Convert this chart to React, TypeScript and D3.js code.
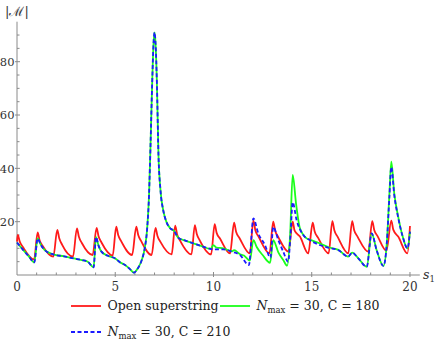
import React, { useEffect, useRef } from 'react';
import * as d3 from 'd3';

// [s1, |M|] points
const openSuperstring: [number, number][] = [
  [0, 12.5], [0.04, 15], [0.14, 12.5], [0.3, 10.5], [0.87, 5.8],
  [1.05, 16], [1.15, 13], [1.3, 11], [1.85, 6.9],
  [2.05, 16.9], [2.15, 13.8], [2.3, 11.3], [2.85, 6.9],
  [3.05, 17.5], [3.15, 14.3], [3.3, 12], [3.85, 7.5],
  [4.05, 17.7], [4.15, 14.5], [4.3, 12.2], [4.87, 7.3],
  [5.05, 18.1], [5.15, 15], [5.3, 12.7], [5.86, 7.5],
  [6.07, 18.1], [6.17, 15], [6.32, 12.7], [6.85, 7.5],
  [7.05, 17.7], [7.15, 14.6], [7.3, 12.4], [7.87, 7.7],
  [8.05, 18.5], [8.15, 15.2], [8.3, 12.9], [8.88, 7.7],
  [9.05, 18.7], [9.15, 15.4], [9.3, 13], [9.88, 7.7],
  [10.06, 19.1], [10.16, 15.8], [10.33, 13.7], [10.84, 8.1],
  [11.05, 19.6], [11.15, 16.2], [11.32, 13.9], [11.85, 8.1],
  [12.03, 20.4], [12.13, 16.8], [12.3, 14.3], [12.85, 8.1],
  [13.04, 20], [13.14, 16.6], [13.3, 14.2], [13.82, 8.75],
  [14.03, 20], [14.13, 16.6], [14.4, 14.4], [14.82, 8.1],
  [15.05, 19.6], [15.15, 16.3], [15.32, 14], [15.86, 8.1],
  [16.05, 20.2], [16.15, 16.8], [16.32, 14.3], [16.86, 8.1],
  [17.06, 20.2], [17.16, 16.8], [17.33, 14.4], [17.88, 8.75],
  [18.08, 20.2], [18.18, 16.9], [18.35, 14.6], [18.8, 9.1],
  [19.05, 20.4], [19.15, 17], [19.4, 14.4], [19.87, 8.1],
  [20, 18.4],
];

const nmax30C180: [number, number][] = [
  [0, 12.2], [0.3, 9.5], [0.6, 7], [0.88, 4.7], [1.05, 13.7], [1.2, 11.5],
  [1.4, 9.4], [1.85, 7.7], [2.4, 7], [2.9, 6.2], [3.3, 5.6], [3.6, 5],
  [3.9, 2.9], [4.02, 14.2], [4.15, 11], [4.3, 8.75], [4.6, 7.3], [5, 6.2],
  [5.24, 4.75], [5.5, 3.75], [5.75, 2.2], [5.95, 0.9], [6.15, 2.5],
  [6.35, 5.6], [6.5, 10], [6.62, 17], [6.72, 30], [6.8, 50], [6.88, 72],
  [6.95, 87], [7, 91], [7.05, 87], [7.12, 72], [7.2, 45], [7.3, 32],
  [7.45, 24], [7.6, 20], [7.8, 17.5], [8, 16.5], [8.2, 14], [8.6, 12.8],
  [9, 11.8], [9.4, 10.8], [9.85, 9.8], [10, 11.2], [10.15, 10.3],
  [10.5, 10], [10.95, 8.9], [11.05, 9.3], [11.35, 7.8], [11.55, 7.3],
  [11.85, 5.4], [12.03, 13.1], [12.2, 10.5], [12.5, 7.5], [12.88, 4.6],
  [13.04, 13.1], [13.3, 8.5], [13.55, 5.6], [13.75, 3.5], [13.9, 15],
  [14.03, 37.5], [14.2, 26.9], [14.4, 17.5], [14.74, 13.75], [15, 13],
  [15.4, 11.9], [15.86, 10.4], [16.36, 9.4], [16.86, 6.9], [17.06, 8.4],
  [17.37, 6.25], [17.8, 3.1], [18.05, 15.6], [18.3, 9.4], [18.65, 3.4],
  [18.82, 11.9], [18.95, 30], [19.05, 42.5], [19.2, 30.6], [19.4, 21.9],
  [19.63, 14.4], [19.87, 10], [20, 16.3],
];

const nmax30C210: [number, number][] = [
  [0, 12.2], [0.3, 9.5], [0.6, 7], [0.88, 4.7], [1.05, 13.7], [1.2, 11.5],
  [1.4, 9.4], [1.85, 7.7], [2.4, 7], [2.9, 6.2], [3.3, 5.6], [3.6, 5],
  [3.9, 2.9], [4.02, 14.2], [4.15, 11], [4.3, 8.75], [4.6, 7.3], [5, 6.2],
  [5.24, 4.75], [5.5, 3.75], [5.75, 2.2], [5.95, 0.9], [6.15, 2.5],
  [6.35, 5.6], [6.5, 10], [6.62, 17], [6.72, 30], [6.8, 50], [6.88, 72],
  [6.95, 87], [7, 91], [7.05, 87], [7.12, 72], [7.2, 45], [7.3, 32],
  [7.45, 24], [7.6, 20], [7.8, 17.5], [8, 16.5], [8.2, 14], [8.6, 12.8],
  [9, 11.8], [9.4, 10.8], [9.85, 9.8], [10, 9.6], [10.5, 9.6],
  [10.95, 8.7], [11.35, 7.5], [11.8, 3.75], [12.03, 21.25], [12.28, 15.6],
  [12.62, 11.25], [12.9, 6.5], [13.04, 18], [13.3, 13.1], [13.55, 8.75],
  [13.8, 5], [13.92, 15], [14.03, 27.25], [14.23, 20.6], [14.57, 15],
  [14.9, 13.1], [15.4, 11.25], [15.86, 10.2], [16.36, 9.3], [16.86, 6.9],
  [17.06, 8.4], [17.37, 6.25], [17.8, 3.1], [18.05, 15.6], [18.3, 9.4],
  [18.65, 3.4], [18.82, 11.9], [18.95, 29], [19.05, 40.5], [19.2, 30],
  [19.4, 21.5], [19.63, 14.4], [19.87, 10], [20, 16.3],
];

const xMajor = [0, 5, 10, 15, 20];
const yMajor = [20, 40, 60, 80];

const font = '"DejaVu Serif", serif';

export default function App() {
  const ref = useRef<SVGSVGElement>(null);
  const width = 436;
  const height = 345;

  useEffect(() => {
    const svg = d3.select(ref.current);
    svg.selectAll('*').remove();

    const x = d3.scaleLinear().domain([0, 20.5]).range([17, 419.8]);
    const y = d3.scaleLinear().domain([0, 95]).range([275, 21.7]);

    const axisColor = '#8a8a8a';

    // x axis
    svg.append('line')
      .attr('x1', x(0)).attr('x2', x(20.5))
      .attr('y1', y(0)).attr('y2', y(0))
      .attr('stroke', axisColor);
    svg.selectAll('.xminor')
      .data(d3.range(1, 21))
      .join('line')
      .attr('x1', d => x(d)).attr('x2', d => x(d))
      .attr('y1', d => y(0) + (d % 5 === 0 ? 2 : 0))
      .attr('y2', d => y(0) - (d % 5 === 0 ? 3 : 2.5))
      .attr('stroke', axisColor);
    svg.selectAll('.xlab')
      .data(xMajor)
      .join('text')
      .attr('x', d => x(d)).attr('y', 290.5)
      .attr('text-anchor', 'middle')
      .attr('font-family', font).attr('font-size', 12)
      .attr('fill', '#333')
      .text(d => d);

    // y axis
    svg.append('line')
      .attr('x1', x(0)).attr('x2', x(0))
      .attr('y1', y(0)).attr('y2', y(95))
      .attr('stroke', axisColor);
    svg.selectAll('.ytick')
      .data(d3.range(5, 95, 5))
      .join('line')
      .attr('x1', d => x(0) - (d % 20 === 0 ? 2 : 0))
      .attr('x2', d => x(0) + (d % 20 === 0 ? 3 : 2.5))
      .attr('y1', d => y(d)).attr('y2', d => y(d))
      .attr('stroke', axisColor);
    svg.selectAll('.ylab')
      .data(yMajor)
      .join('text')
      .attr('x', 14.5).attr('y', d => y(d) + 4.2)
      .attr('text-anchor', 'end')
      .attr('font-family', font).attr('font-size', 11.5)
      .attr('fill', '#333')
      .text(d => d);

    // axis labels
    svg.append('text')
      .attr('x', x(0)).attr('y', 16)
      .attr('text-anchor', 'middle')
      .attr('font-family', font).attr('font-size', 13)
      .attr('fill', '#333')
      .text('|ℳ|');
    const s1 = svg.append('text')
      .attr('x', 423).attr('y', 279)
      .attr('font-family', font).attr('font-size', 12.5)
      .attr('fill', '#333');
    s1.append('tspan').attr('font-style', 'italic').text('s');
    s1.append('tspan').attr('font-size', 8.5).attr('dy', 3).text('1');

    // series
    const line = d3.line<[number, number]>()
      .x(d => x(d[0]))
      .y(d => y(d[1]))
      .curve(d3.curveMonotoneX);

    svg.append('path').datum(openSuperstring)
      .attr('d', line).attr('fill', 'none')
      .attr('stroke', '#ff1a1a').attr('stroke-width', 1.8);
    svg.append('path').datum(nmax30C180)
      .attr('d', line).attr('fill', 'none')
      .attr('stroke', '#1aff1a').attr('stroke-width', 1.8);
    svg.append('path').datum(nmax30C210)
      .attr('d', line).attr('fill', 'none')
      .attr('stroke', '#1a1aff').attr('stroke-width', 1.8)
      .attr('stroke-dasharray', '4,2.5');

    // legend
    const legend = [
      { color: '#ff1a1a', dash: null, x: 71, y: 306, label: 'open' },
      { color: '#1aff1a', dash: null, x: 220, y: 306, label: '180' },
      { color: '#1a1aff', dash: '4,2.5', x: 71, y: 332, label: '210' },
    ];
    legend.forEach(l => {
      svg.append('line')
        .attr('x1', l.x).attr('x2', l.x + 30)
        .attr('y1', l.y).attr('y2', l.y)
        .attr('stroke', l.color).attr('stroke-width', 1.8)
        .attr('stroke-dasharray', l.dash);
      const t = svg.append('text')
        .attr('x', l.x + 36.5).attr('y', l.y + 4)
        .attr('font-family', font).attr('font-size', 12.5)
        .attr('fill', '#222');
      if (l.label === 'open') {
        t.text('Open superstring');
      } else {
        t.append('tspan').attr('font-style', 'italic').text('N');
        t.append('tspan').attr('font-size', 8.5).attr('dy', 3).text('max');
        t.append('tspan').attr('dy', -3).text(` = 30, C = ${l.label}`);
      }
    });
  }, []);

  return (
    <svg ref={ref} width={width} height={height}
      style={{ position: 'absolute', left: 0, top: 0 }}>
      <title>|M| vs s1</title>
    </svg>
  );
}
